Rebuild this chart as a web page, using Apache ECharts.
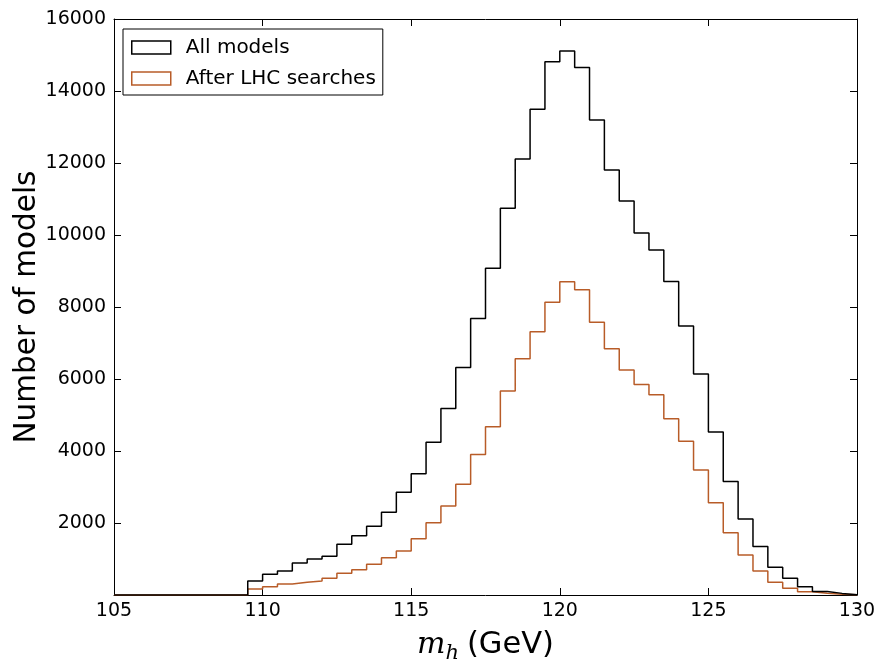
<!DOCTYPE html>
<html>
<head>
<meta charset="utf-8">
<script src="https://cdn.jsdelivr.net/npm/echarts@6/dist/echarts.min.js"></script>
<style>html,body{margin:0;padding:0;background:#fff;}#c{width:877px;height:662px;}</style>
</head>
<body>
<div id="c"></div>
<script>
// Bin left edges (GeV), bin width 0.5, last edge 130
const binEdges = [105,105.5,106,106.5,107,107.5,108,108.5,109,109.5,
  110,110.5,111,111.5,112,112.5,113,113.5,114,114.5,
  115,115.5,116,116.5,117,117.5,118,118.5,119,119.5,
  120,120.5,121,121.5,122,122.5,123,123.5,124,124.5,
  125,125.5,126,126.5,127,127.5,128,128.5,129,129.5,130];
const allModels = [0,0,0,0,0,0,0,0,0,390,
  575,667,889,1000,1074,1407,1648,1907,2296,2852,
  3370,4240,5180,6320,7680,9075,10740,12110,13490,14815,
  15110,14650,13195,11805,10945,10055,9585,8705,7475,6140,
  4530,3150,2110,1345,770,465,230,95,45,10];
const afterLHC = [0,0,0,0,0,0,0,0,0,167,
  231,306,352,389,463,602,704,852,1037,1222,
  1565,2009,2472,3074,3905,4676,5667,6565,7315,8135,
  8704,8480,7574,6843,6250,5845,5565,4898,4269,3472,
  2565,1731,1111,667,352,185,92,46,20,5];
const seriesNames = ['All models','After LHC searches'];
const seriesColors = ['#000000','#b85c28'];
const xTicks = [105,110,115,120,125,130];
const yTicks = [0,2000,4000,6000,8000,10000,12000,14000,16000];

function stepData(vals){
  const d = vals.map((v,i)=>[binEdges[i], v]);
  d.push([binEdges[binEdges.length-1], 0]);
  return d;
}

const chart = echarts.init(document.getElementById('c'), null, {renderer:'canvas'});
const font = 'DejaVu Sans';
const tickStyle = {show:true, inside:true, length:7, lineStyle:{color:'#000', width:1}};
const axisLine = {show:true, onZero:false, lineStyle:{color:'#000', width:1}};
chart.setOption({
  animation:false,
  backgroundColor:'#fff',
  grid:{left:114, top:19, right:20, bottom:67, containLabel:false, outerBoundsMode:'none'},
  legend:{
    left:123, top:29, orient:'vertical',
    padding:[8,7,6,8], itemGap:10, itemWidth:39, itemHeight:13,
    borderColor:'#000', borderWidth:1, borderRadius:0, backgroundColor:'#fff',
    icon:'rect',
    textStyle:{fontFamily:font, fontSize:20, color:'#000', lineHeight:21, padding:[0,0,0,10]},
    data:[
      {name:seriesNames[0], itemStyle:{color:'#fff', borderColor:seriesColors[0], borderWidth:1.5}},
      {name:seriesNames[1], itemStyle:{color:'#fff', borderColor:seriesColors[1], borderWidth:1.5}}
    ]
  },
  xAxis:[{
    type:'value', min:xTicks[0], max:xTicks[xTicks.length-1], interval:5, position:'bottom',
    axisLine:axisLine, axisTick:tickStyle, splitLine:{show:false},
    axisLabel:{fontFamily:font, fontSize:19, color:'#000', margin:7, formatter:v=>String(v)},
    name:'{m|m}{h|h}{t|(GeV)}', nameLocation:'middle', nameGap:31,
    nameTextStyle:{rich:{
      m:{fontFamily:'DejaVu Serif', fontStyle:'italic', fontSize:30, color:'#000'},
      h:{fontFamily:'DejaVu Serif', fontStyle:'italic', fontSize:21, color:'#000', verticalAlign:'bottom', padding:[17,0,0,0]},
      t:{fontFamily:font, fontSize:30.5, color:'#000', padding:[0,0,0,8]}
    }}
  },{
    type:'value', min:xTicks[0], max:xTicks[xTicks.length-1], interval:5, position:'top',
    axisLine:axisLine, axisTick:tickStyle, axisLabel:{show:false}, splitLine:{show:false}
  }],
  yAxis:[{
    type:'value', min:yTicks[0], max:yTicks[yTicks.length-1], interval:2000, position:'left',
    axisLine:axisLine, axisTick:tickStyle, splitLine:{show:false},
    axisLabel:{fontFamily:font, fontSize:19, color:'#000', margin:8, showMinLabel:false, formatter:v=>String(v)},
    name:'Number of models', nameLocation:'middle', nameGap:72, nameRotate:90, nameMoveOverlap:false,
    nameTextStyle:{fontFamily:font, fontSize:29.5, color:'#000'}
  },{
    type:'value', min:yTicks[0], max:yTicks[yTicks.length-1], interval:2000, position:'right',
    axisLine:axisLine, axisTick:tickStyle, axisLabel:{show:false}, splitLine:{show:false}
  }],
  series:[
    {name:seriesNames[0], type:'line', step:'end', data:stepData(allModels), showSymbol:false, symbol:'none',
     lineStyle:{color:seriesColors[0], width:1.5}, itemStyle:{color:seriesColors[0]}, z:3},
    {name:seriesNames[1], type:'line', step:'end', data:stepData(afterLHC), showSymbol:false, symbol:'none',
     lineStyle:{color:seriesColors[1], width:1.5}, itemStyle:{color:seriesColors[1]}, z:2}
  ]
});
</script>
</body>
</html>
